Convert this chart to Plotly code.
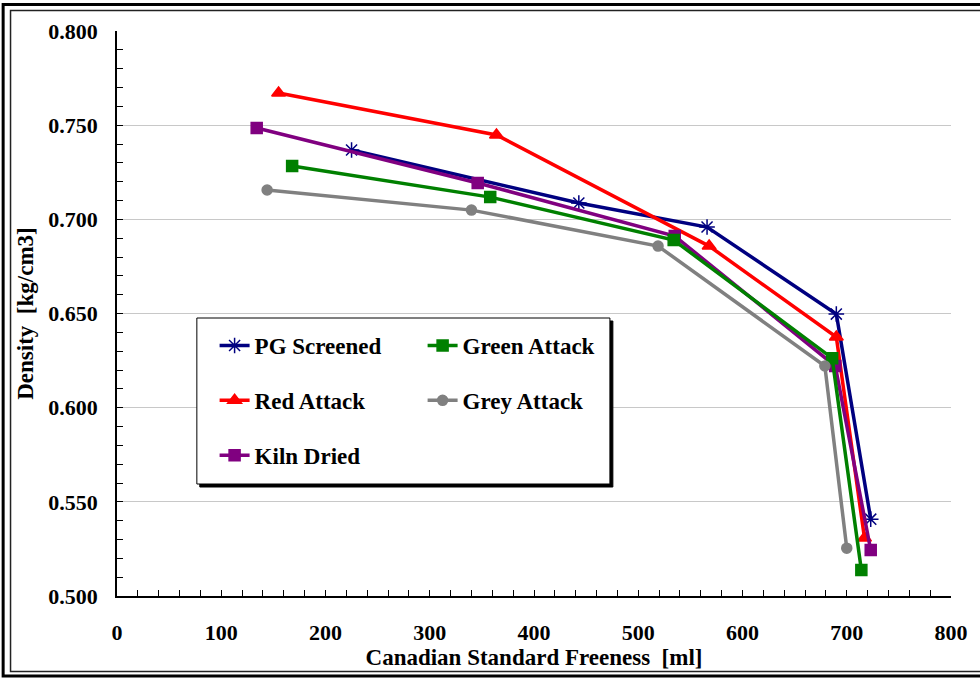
import plotly.graph_objects as go

# ---- data ----
pg_x = [225, 443, 566, 690, 723]
pg_y = [0.7368, 0.7087, 0.6959, 0.6497, 0.5408]
red_x = [155, 364, 568, 690, 717]
red_y = [0.7671, 0.7448, 0.6858, 0.6375, 0.5308]
green_x = [168, 358, 534, 686, 714]
green_y = [0.7283, 0.7118, 0.6890, 0.6263, 0.5138]
grey_x = [144, 340, 519, 679, 700]
grey_y = [0.7156, 0.7049, 0.6858, 0.6221, 0.5254]
kiln_x = [134, 346, 535, 689, 723]
kiln_y = [0.7485, 0.7193, 0.6911, 0.6221, 0.5244]

x_ticks = [0, 100, 200, 300, 400, 500, 600, 700, 800]
y_ticks = [0.500, 0.550, 0.600, 0.650, 0.700, 0.750, 0.800]

FONT = "Times New Roman, Liberation Serif, serif"
W, H = 980, 679
ML, MR, MT, MB = 117, 17, 31, 83
PW, PH = W - ML - MR, H - MT - MB


def px(xp):
    return (xp - ML) / PW


def py(yp):
    return (H - MB - yp) / PH


series = [
    ("PG Screened", pg_x, pg_y, "#000080", "asterisk-open", 13, "legend"),
    ("Red Attack", red_x, red_y, "#FF0000", "triangle-up", 12, "legend"),
    ("Kiln Dried", kiln_x, kiln_y, "#800080", "square", 11, "legend"),
    ("Green Attack", green_x, green_y, "#008000", "square", 11, "legend2"),
    ("Grey Attack", grey_x, grey_y, "#808080", "circle", 10, "legend2"),
]

fig = go.Figure()
for name, xs, ys, col, sym, sz, lg in series:
    fig.add_trace(go.Scatter(
        x=xs, y=ys, mode="lines+markers", name=name,
        line=dict(color=col, width=3.5),
        marker=dict(symbol=sym, size=sz, color=col,
                    line=dict(color=col, width=1.5)),
        legend=lg, legendgroup=name,
    ))

legend_common = dict(
    font=dict(family=FONT, size=23, color="black", weight="bold"),
    bgcolor="rgba(0,0,0,0)", borderwidth=0,
    tracegroupgap=22, itemwidth=30,
    xanchor="left", yanchor="top", orientation="v",
)

fig.update_layout(
    width=W, height=H,
    margin=dict(l=ML, r=MR, t=MT, b=MB),
    paper_bgcolor="white", plot_bgcolor="white",
    font=dict(family=FONT, color="black"),
    showlegend=True,
    legend=dict(x=px(216), y=py(324), **legend_common),
    legend2=dict(x=px(427), y=py(324), **legend_common),
    xaxis=dict(
        range=[0, 800], tickvals=x_ticks, ticktext=[str(v) for v in x_ticks],
        showgrid=False, zeroline=False,
        showline=True, linecolor="black", linewidth=1.5,
        ticks="inside", ticklen=6, tickcolor="black", tickwidth=1,
        minor=dict(dtick=20, ticks="inside", ticklen=6, tickcolor="black", showgrid=False),
        tickfont=dict(family=FONT, size=22, color="black", weight="bold"),
        ticklabelstandoff=16,
        title=dict(text="Canadian Standard Freeness  [ml]",
                   font=dict(family=FONT, size=23, color="black", weight="bold"),
                   standoff=0),
    ),
    yaxis=dict(
        range=[0.5, 0.8], tickvals=y_ticks, ticktext=["%.3f" % v for v in y_ticks],
        showgrid=True, gridcolor="#C8C8C8", gridwidth=1, zeroline=False,
        showline=True, linecolor="black", linewidth=1.5,
        ticks="inside", ticklen=6, tickcolor="black", tickwidth=1,
        minor=dict(dtick=0.01, ticks="inside", ticklen=6, tickcolor="black", showgrid=False),
        tickfont=dict(family=FONT, size=22, color="black", weight="bold"),
        ticklabelstandoff=13,
        title=dict(text="Density  [kg/cm3]",
                   font=dict(family=FONT, size=23, color="black", weight="bold"),
                   standoff=8),
    ),
)

shapes = [
    # outer double frame (extends past the right edge, as in the reference)
    dict(type="rect", xref="paper", yref="paper",
         x0=px(1.5), x1=px(1000), y0=py(676), y1=py(4.5),
         line=dict(color="black", width=3), fillcolor="rgba(0,0,0,0)", layer="below"),
    dict(type="rect", xref="paper", yref="paper",
         x0=px(9), x1=px(1000), y0=py(671.5), y1=py(10.5),
         line=dict(color="#222222", width=1.5), fillcolor="rgba(0,0,0,0)", layer="below"),
    # legend box shadow and box
    dict(type="rect", xref="paper", yref="paper",
         x0=px(201), x1=px(620), y0=py(487), y1=py(321),
         line=dict(color="black", width=1), fillcolor="black", layer="above"),
    dict(type="rect", xref="paper", yref="paper",
         x0=px(198), x1=px(617), y0=py(484), y1=py(318),
         line=dict(color="black", width=1), fillcolor="white", layer="above"),
]
fig.update_layout(shapes=shapes)

fig.write_html("out.html")
